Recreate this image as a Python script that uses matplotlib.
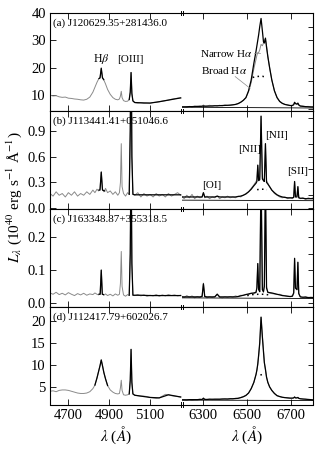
import matplotlib
matplotlib.use('Agg')
import matplotlib.pyplot as plt
from matplotlib.ticker import MultipleLocator
from matplotlib.lines import Line2D

plt.rcParams['font.family'] = ['Liberation Serif', 'DejaVu Serif']
plt.rcParams['mathtext.fontset'] = 'stix'

# ---------------- data ----------------
blue_wl = [4610, 4625, 4640, 4655, 4670, 4685, 4700, 4715, 4730, 4745,
           4760, 4775, 4790, 4805, 4820, 4830, 4840, 4848, 4855, 4861,
           4867, 4874, 4882, 4892, 4905, 4918, 4930, 4942, 4950, 4955,
           4959, 4963, 4970, 4980, 4990, 4998, 5003, 5007, 5011, 5016,
           5025, 5040, 5055, 5070, 5085, 5100, 5115, 5130, 5145, 5160,
           5175, 5190, 5205, 5220, 5235, 5250]
red_wl = [6200, 6212, 6224, 6236, 6248, 6260, 6272, 6284, 6294, 6300,
          6306, 6316, 6328, 6340, 6352, 6363, 6374, 6386, 6398, 6410,
          6422, 6434, 6446, 6458, 6470, 6482, 6494, 6506, 6518, 6530,
          6540, 6544, 6548, 6552, 6557, 6563, 6569, 6574, 6578, 6583,
          6588, 6594, 6602, 6612, 6624, 6636, 6648, 6660, 6672, 6684,
          6696, 6706, 6712, 6716, 6720, 6727, 6731, 6735, 6742, 6754,
          6766, 6778, 6790, 6800]
o3_wl = [4998, 5003, 5007, 5011, 5016, 5025, 5055, 5100, 5145, 5190, 5250]
cont_wl = [6200, 6800]

names = ['(a) J120629.35+281436.0', '(b) J113441.41+051046.6',
         '(c) J163348.87+355318.5', '(d) J112417.79+602026.7']

# panel (a)
a_blue_obs = [9.9, 9.6, 9.7, 9.3, 9.1, 9.2, 8.8, 8.7, 8.5, 8.4,
              8.2, 8.1, 8.4, 9.2, 11.0, 12.8, 14.6, 15.8, 16.4, 19.6,
              16.5, 15.4, 14.0, 12.0, 10.2, 9.0, 8.4, 8.2, 8.5, 9.6,
              11.3, 9.0, 7.9, 7.6, 7.7, 8.3, 11.0, 18.2, 10.5, 7.8,
              7.2, 7.0, 7.1, 6.9, 7.0, 7.0, 7.2, 7.3, 7.5, 7.7,
              7.9, 8.1, 8.4, 8.6, 8.8, 8.9]
a_hb_wl = [4850, 4855, 4861, 4867, 4873]
a_hb_fit = [16.0, 16.2, 19.8, 16.2, 15.6]
a_o3_fit = [8.3, 11.0, 18.2, 10.5, 7.8, 7.2, 7.1, 7.0, 7.5, 8.1, 8.9]
a_red_obs = [5.6, 5.7, 5.5, 5.8, 5.6, 5.9, 5.7, 5.9, 5.8, 6.3,
             5.9, 5.8, 6.2, 5.9, 6.1, 6.0, 6.2, 6.0, 6.3, 6.1,
             6.2, 6.4, 6.5, 6.8, 7.3, 8.0, 9.0, 11.2, 14.5, 19.5,
             23.0, 24.5, 25.5, 25.5, 26.5, 28.5, 28.0, 29.0, 30.0, 30.5,
             28.0, 24.0, 20.0, 15.5, 11.5, 9.0, 7.6, 6.9, 6.5, 6.3,
             6.1, 6.2, 6.5, 7.2, 6.9, 6.7, 6.9, 6.4, 6.0, 5.9,
             5.7, 5.8, 5.6, 5.5]
a_red_fit = [5.6, 5.6, 5.65, 5.7, 5.7, 5.75, 5.8, 5.8, 5.85, 5.95,
             5.85, 5.9, 5.9, 5.95, 6.0, 6.0, 6.05, 6.1, 6.15, 6.2,
             6.25, 6.35, 6.5, 6.8, 7.3, 8.0, 9.0, 11.5, 15.5, 21.5,
             26.0, 28.0, 30.0, 32.0, 35.0, 38.0, 33.5, 29.5, 29.0, 30.8,
             27.5, 24.0, 20.0, 15.5, 11.5, 9.0, 7.6, 6.9, 6.5, 6.3,
             6.1, 6.1, 6.4, 7.3, 6.8, 6.6, 7.0, 6.3, 5.9, 5.8,
             5.7, 5.65, 5.6, 5.6]
a_cont = [5.5, 5.2]
a_broad_wl = [6525, 6540, 6555, 6570, 6585]
a_broad = [16.4, 16.7, 16.8, 16.8, 16.5]

# panel (b)
b_blue_obs = [0.17, 0.14, 0.19, 0.15, 0.17, 0.13, 0.18, 0.15, 0.19, 0.14,
              0.17, 0.15, 0.19, 0.16, 0.21, 0.18, 0.22, 0.20, 0.23, 0.42,
              0.22, 0.19, 0.23, 0.18, 0.20, 0.16, 0.19, 0.15, 0.18, 0.30,
              0.75, 0.25, 0.17, 0.14, 0.18, 0.16, 0.90, 2.20, 0.60, 0.17,
              0.15, 0.18, 0.13, 0.17, 0.14, 0.16, 0.13, 0.17, 0.14, 0.16,
              0.13, 0.17, 0.14, 0.16, 0.18, 0.15]
b_hb_wl = [4850, 4855, 4861, 4867, 4878]
b_hb_fit = [0.21, 0.21, 0.42, 0.21, 0.20]
b_o3_fit = [0.16, 0.90, 2.20, 0.60, 0.16, 0.155, 0.155, 0.155, 0.155, 0.155, 0.155]
b_red_obs = [0.14, 0.11, 0.15, 0.12, 0.16, 0.11, 0.14, 0.12, 0.13, 0.18,
             0.12, 0.14, 0.11, 0.13, 0.12, 0.14, 0.11, 0.13, 0.12, 0.14,
             0.12, 0.13, 0.12, 0.14, 0.13, 0.15, 0.17, 0.19, 0.23, 0.27,
             0.31, 0.33, 0.50, 0.34, 0.36, 1.07, 0.36, 0.33, 0.34, 0.75,
             0.32, 0.29, 0.25, 0.21, 0.17, 0.15, 0.13, 0.12, 0.13, 0.11,
             0.12, 0.11, 0.13, 0.31, 0.14, 0.15, 0.25, 0.13, 0.11, 0.12,
             0.10, 0.12, 0.11, 0.12]
b_red_fit = [0.13, 0.13, 0.13, 0.13, 0.13, 0.13, 0.13, 0.13, 0.13, 0.18,
             0.13, 0.13, 0.13, 0.13, 0.13, 0.14, 0.13, 0.13, 0.13, 0.13,
             0.13, 0.13, 0.13, 0.135, 0.14, 0.15, 0.165, 0.19, 0.22, 0.26,
             0.29, 0.31, 0.50, 0.32, 0.33, 1.07, 0.34, 0.32, 0.31, 0.75,
             0.30, 0.28, 0.25, 0.21, 0.18, 0.155, 0.14, 0.13, 0.125, 0.12,
             0.12, 0.12, 0.125, 0.31, 0.13, 0.13, 0.25, 0.12, 0.115, 0.115,
             0.11, 0.11, 0.11, 0.11]
b_cont = [0.093, 0.087]
b_broad_wl = [6545, 6560, 6575, 6590]
b_broad = [0.215, 0.22, 0.22, 0.215]

# panel (c)
c_blue_obs = [0.030, 0.026, 0.032, 0.025, 0.029, 0.024, 0.031, 0.026, 0.022, 0.028,
              0.024, 0.029, 0.023, 0.027, 0.025, 0.030, 0.026, 0.024, 0.030, 0.100,
              0.028, 0.023, 0.027, 0.022, 0.026, 0.021, 0.027, 0.023, 0.026, 0.060,
              0.157, 0.050, 0.024, 0.020, 0.025, 0.022, 0.150, 0.470, 0.120, 0.024,
              0.022, 0.025, 0.021, 0.024, 0.020, 0.023, 0.021, 0.025, 0.020, 0.024,
              0.021, 0.025, 0.022, 0.024, 0.021, 0.023]
c_hb_wl = [4850, 4856, 4861, 4866, 4872]
c_hb_fit = [0.026, 0.026, 0.100, 0.026, 0.025]
c_o3_fit = [0.023, 0.150, 0.470, 0.120, 0.023, 0.023, 0.023, 0.022, 0.022, 0.022, 0.022]
c_red_obs = [0.020, 0.016, 0.022, 0.017, 0.021, 0.015, 0.019, 0.016, 0.022, 0.060,
             0.020, 0.015, 0.018, 0.016, 0.019, 0.027, 0.017, 0.015, 0.018, 0.016,
             0.019, 0.017, 0.021, 0.019, 0.023, 0.022, 0.026, 0.025, 0.029, 0.027,
             0.031, 0.050, 0.120, 0.045, 0.034, 0.400, 0.040, 0.032, 0.060, 0.380,
             0.050, 0.031, 0.030, 0.028, 0.027, 0.025, 0.026, 0.023, 0.022, 0.020,
             0.019, 0.021, 0.030, 0.136, 0.045, 0.040, 0.124, 0.030, 0.018, 0.016,
             0.019, 0.015, 0.017, 0.016]
c_red_fit = [0.018, 0.018, 0.018, 0.018, 0.018, 0.018, 0.018, 0.018, 0.019, 0.058,
             0.019, 0.018, 0.018, 0.018, 0.018, 0.026, 0.018, 0.018, 0.018, 0.018,
             0.018, 0.018, 0.018, 0.019, 0.021, 0.023, 0.025, 0.027, 0.029, 0.030,
             0.032, 0.045, 0.120, 0.040, 0.034, 0.400, 0.040, 0.034, 0.050, 0.380,
             0.045, 0.032, 0.031, 0.030, 0.028, 0.026, 0.024, 0.022, 0.021, 0.020,
             0.019, 0.020, 0.030, 0.136, 0.045, 0.040, 0.124, 0.028, 0.018, 0.017,
             0.017, 0.016, 0.016, 0.016]
c_cont = [0.015, 0.013]
c_broad_wl = [6500, 6525, 6550, 6575, 6600]
c_broad = [0.022, 0.025, 0.026, 0.026, 0.024]

# panel (d)
d_blue_obs = [4.0, 4.1, 3.9, 4.2, 4.3, 4.3, 4.2, 4.0, 3.8, 3.6,
              3.5, 3.5, 3.6, 3.9, 4.6, 5.4, 7.0, 8.5, 9.8, 11.1,
              9.8, 8.2, 6.8, 5.3, 4.3, 3.8, 3.5, 3.4, 3.5, 4.8,
              6.5, 4.2, 3.2, 3.1, 3.2, 3.4, 6.5, 13.5, 6.0, 3.4,
              3.1, 3.0, 2.9, 2.9, 2.8, 2.6, 2.5, 2.4, 2.5, 2.9,
              3.3, 3.2, 3.0, 2.9, 2.8, 2.7]
d_hb_wl = [4830, 4840, 4848, 4855, 4861, 4867, 4874, 4882, 4892]
d_hb_fit = [5.4, 7.0, 8.5, 9.8, 11.1, 9.8, 8.2, 6.8, 5.3]
d_o3_fit = [3.4, 6.5, 13.5, 6.0, 3.4, 3.1, 2.9, 2.6, 2.5, 3.2, 2.7]
d_red_obs = [2.0, 2.1, 2.0, 2.1, 2.0, 2.1, 2.1, 2.2, 2.1, 2.5,
             2.2, 2.1, 2.2, 2.1, 2.2, 2.2, 2.2, 2.2, 2.3, 2.2,
             2.3, 2.3, 2.4, 2.4, 2.6, 2.8, 3.1, 3.6, 4.6, 6.0,
             7.8, 8.8, 10.0, 12.0, 14.8, 20.8, 16.5, 13.3, 10.5, 8.8,
             7.2, 6.0, 5.0, 4.2, 3.5, 3.0, 2.8, 2.6, 2.6, 2.5,
             2.4, 2.4, 2.5, 2.7, 2.5, 2.5, 2.6, 2.4, 2.3, 2.2,
             2.2, 2.1, 2.1, 2.0]
d_red_fit = [2.05, 2.05, 2.05, 2.1, 2.1, 2.1, 2.1, 2.15, 2.15, 2.4,
             2.15, 2.15, 2.2, 2.2, 2.2, 2.2, 2.2, 2.25, 2.25, 2.25,
             2.3, 2.3, 2.35, 2.4, 2.55, 2.75, 3.05, 3.6, 4.6, 6.0,
             7.8, 8.8, 10.2, 12.2, 15.0, 20.8, 16.3, 13.0, 10.5, 9.0,
             7.2, 6.0, 5.0, 4.2, 3.5, 3.0, 2.8, 2.65, 2.55, 2.5,
             2.45, 2.45, 2.5, 2.7, 2.5, 2.5, 2.6, 2.4, 2.3, 2.25,
             2.2, 2.15, 2.1, 2.05]
d_cont = [2.0, 1.9]
d_broad_wl = [6560, 6570, 6580]
d_broad = [7.7, 7.8, 7.7]

ylims = [(4.1, 40), (-0.01, 1.13), (-0.013, 0.287), (1.0, 23.1)]
yticks = [[10, 20, 30, 40], [0.0, 0.3, 0.6, 0.9], [0.0, 0.1, 0.2], [5, 10, 15, 20]]
yfmt = ['%d', '%.1f', '%.1f', '%d']
rticks_step = [5, 0.15, 0.05, 5]
blue_ticks = [4700, 4900, 5100]
red_ticks = [6300, 6500, 6700]

panels = [
    dict(bo=a_blue_obs, hw=a_hb_wl, hf=a_hb_fit, of=a_o3_fit, ro=a_red_obs, rf=a_red_fit,
         co=a_cont, bw=a_broad_wl, br=a_broad),
    dict(bo=b_blue_obs, hw=b_hb_wl, hf=b_hb_fit, of=b_o3_fit, ro=b_red_obs, rf=b_red_fit,
         co=b_cont, bw=b_broad_wl, br=b_broad),
    dict(bo=c_blue_obs, hw=c_hb_wl, hf=c_hb_fit, of=c_o3_fit, ro=c_red_obs, rf=c_red_fit,
         co=c_cont, bw=c_broad_wl, br=c_broad),
    dict(bo=d_blue_obs, hw=d_hb_wl, hf=d_hb_fit, of=d_o3_fit, ro=d_red_obs, rf=d_red_fit,
         co=d_cont, bw=d_broad_wl, br=d_broad),
]

# ---------------- layout ----------------
W, H = 317, 450
fig = plt.figure(figsize=(W / 100, H / 100), dpi=100)
xL, xM, xR = 50, 181.5, 313
row_edges = [13, 111, 209, 307, 404.5]
gray = '#8a8a8a'

axes_pairs = []
for i, p in enumerate(panels):
    top, bot = row_edges[i], row_edges[i + 1]
    y0 = 1 - bot / H
    h = (bot - top) / H
    axL = fig.add_axes([xL / W, y0, (xM - xL) / W, h])
    axR = fig.add_axes([xM / W, y0, (xR - xM) / W, h])
    axes_pairs.append((axL, axR))

    axL.plot(blue_wl, p['bo'], color=gray, lw=0.7)
    axL.plot(p['hw'], p['hf'], color='k', lw=0.9)
    axL.plot(o3_wl, p['of'], color='k', lw=0.9)
    axR.plot(red_wl, p['ro'], color=gray, lw=0.7)
    axR.plot(red_wl, p['rf'], color='k', lw=0.9)
    axR.plot(cont_wl, p['co'], color='k', lw=0.6)
    axR.plot(p['bw'], p['br'], color='k', lw=1.1, ls=(0, (1, 2.2)))

    axL.set_xlim(4610, 5254)
    axR.set_xlim(6200, 6800)
    for ax in (axL, axR):
        ax.set_ylim(ylims[i])
        for s in ax.spines.values():
            s.set_linewidth(0.8)
    axL.spines['right'].set_visible(False)
    axR.spines['left'].set_visible(False)

    axL.set_xticks(blue_ticks)
    axR.set_xticks(red_ticks)
    axL.set_yticks(yticks[i])
    axL.set_yticklabels([yfmt[i] % v for v in yticks[i]])
    axR.yaxis.set_major_locator(MultipleLocator(rticks_step[i]))

    last = (i == 3)
    for ax in (axL, axR):
        ax.tick_params(axis='x', direction='in', top=True, bottom=True, length=4.5,
                       width=0.6, labelsize=10.5, pad=3, labelbottom=last)
    axL.tick_params(axis='y', direction='in', left=True, right=False, length=4,
                    width=0.6, labelsize=10.5, pad=3)
    axR.tick_params(axis='y', direction='in', left=False, right=True, labelleft=False,
                    length=3.5, width=0.6)

    axL.text(0.02, 1 - 10 / (bot - top), names[i], transform=axL.transAxes,
             fontsize=8, va='center', ha='left')

    if last:
        axL.set_xlabel(r'$\lambda$ ($\mathit{Å}$)', fontsize=11, labelpad=2)
        axR.set_xlabel(r'$\lambda$ ($\mathit{Å}$)', fontsize=11, labelpad=2)

# break marks
for yb in row_edges:
    for dx in (-1.0, 1.0):
        fig.add_artist(Line2D([(xM + dx) / W] * 2, [1 - (yb - 2.2) / H, 1 - (yb + 2.2) / H],
                              color='k', lw=0.7))

# annotations
aL, aR = axes_pairs[0]
aL.text(4859, 23.0, r'H$\beta$', fontsize=8.5, ha='center', va='center')
aL.text(5006, 23.0, '[OIII]', fontsize=8, ha='center', va='center')
aR.text(6527, 25.3, r'Narrow H$\alpha$', fontsize=8, ha='right', va='center')
aR.plot([6530, 6560], [25.3, 25.3], color=gray, lw=0.5)
aR.text(6500, 19.1, r'Broad H$\alpha$', fontsize=8, ha='right', va='center')
aR.plot([6445, 6513], [16.7, 12.4], color=gray, lw=0.5)

bL, bR = axes_pairs[1]
bR.text(6338, 0.262, '[OI]', fontsize=8, ha='center', va='center')
bR.text(6510, 0.677, '[NII]', fontsize=8, ha='center', va='center')
bR.text(6636, 0.85, '[NII]', fontsize=8, ha='center', va='center')
bR.text(6730, 0.427, '[SII]', fontsize=8, ha='center', va='center')

fig.text(14 / W, 1 - 197 / H, r'$L_\lambda$ (10$^{40}$ erg s$^{-1}$ Å$^{-1}$)',
         rotation=90, fontsize=11, ha='center', va='center')

fig.savefig('out.png', dpi=100)
